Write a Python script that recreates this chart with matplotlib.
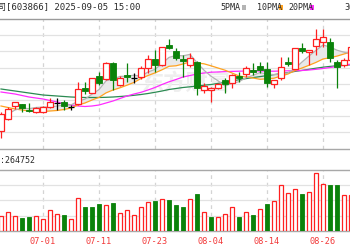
import matplotlib
matplotlib.use('Agg')
import matplotlib.pyplot as plt
from matplotlib.patches import Rectangle
import numpy as np

# ---------------- data ----------------
dates = ['06-23', '06-24', '06-25', '06-26', '06-27', '06-30',
         '07-01', '07-02', '07-03', '07-04', '07-07', '07-08', '07-09', '07-10',
         '07-11', '07-14', '07-15', '07-16', '07-17', '07-18', '07-21', '07-22',
         '07-23', '07-24', '07-25', '07-28', '07-29', '07-30', '07-31', '08-01',
         '08-04', '08-05', '08-06', '08-07', '08-08', '08-11', '08-12', '08-13',
         '08-14', '08-15', '08-18', '08-19', '08-20', '08-21', '08-22', '08-25',
         '08-26', '08-27', '08-28', '08-29', '09-01']
label_dates = ['07-01', '07-11', '07-23', '08-04', '08-14', '08-26']

opens = [6.69, 6.81, 6.94, 6.96, 6.90, 6.88, 6.88, 6.93, 6.97, 6.98, 6.93, 6.96, 7.12,
         7.07, 7.24, 7.21, 7.37, 7.15, 7.25, 7.22, 7.23, 7.32, 7.41, 7.35, 7.55, 7.49,
         7.41, 7.35, 7.38, 7.10, 7.10, 7.12, 7.20, 7.17, 7.24, 7.26, 7.30, 7.34, 7.31,
         7.16, 7.22, 7.38, 7.31, 7.52, 7.48, 7.54, 7.58, 7.58, 7.38, 7.35, 7.40]
closes = [6.86, 6.91, 6.98, 6.92, 6.89, 6.92, 6.93, 6.98, 6.97, 6.94, 6.93, 7.11, 7.09,
          7.22, 7.17, 7.37, 7.20, 7.22, 7.23, 7.22, 7.32, 7.41, 7.35, 7.53, 7.52, 7.42,
          7.39, 7.42, 7.12, 7.14, 7.12, 7.16, 7.16, 7.25, 7.22, 7.32, 7.28, 7.30, 7.17,
          7.20, 7.33, 7.36, 7.52, 7.49, 7.50, 7.61, 7.63, 7.42, 7.33, 7.40, 7.53]
highs = [6.88, 6.93, 6.98, 6.96, 6.97, 6.93, 6.94, 7.02, 7.02, 7.00, 6.95, 7.18, 7.18,
         7.22, 7.28, 7.38, 7.38, 7.24, 7.37, 7.27, 7.34, 7.45, 7.50, 7.53, 7.61, 7.52,
         7.45, 7.47, 7.39, 7.17, 7.13, 7.17, 7.22, 7.26, 7.28, 7.34, 7.37, 7.38, 7.38,
         7.20, 7.43, 7.43, 7.52, 7.57, 7.50, 7.71, 7.71, 7.62, 7.40, 7.42, 7.55]
lows = [6.62, 6.80, 6.91, 6.88, 6.88, 6.87, 6.87, 6.92, 6.90, 6.90, 6.90, 6.95, 7.06,
        7.07, 7.15, 7.20, 7.10, 7.14, 7.18, 7.17, 7.21, 7.27, 7.28, 7.34, 7.51, 7.40,
        7.23, 7.33, 7.05, 7.07, 6.98, 7.11, 7.07, 7.12, 7.18, 7.23, 7.25, 7.27, 7.13,
        7.12, 7.20, 7.34, 7.31, 7.47, 7.35, 7.45, 7.53, 7.38, 7.12, 7.33, 7.38]

ma5 = [6.840, 6.860, 6.900, 6.920, 6.913, 6.925, 6.929, 6.929, 6.940, 6.949, 6.951,
       6.987, 7.009, 7.058, 7.104, 7.192, 7.210, 7.236, 7.238, 7.248, 7.238, 7.280,
       7.306, 7.366, 7.426, 7.446, 7.442, 7.456, 7.374, 7.298, 7.238, 7.192, 7.140,
       7.166, 7.183, 7.223, 7.247, 7.275, 7.259, 7.254, 7.256, 7.272, 7.316, 7.380,
       7.440, 7.496, 7.550, 7.530, 7.498, 7.478, 7.462]
ma10 = [6.940, 6.925, 6.910, 6.900, 6.890, 6.885, 6.885, 6.890, 6.895, 6.905, 6.920,
        6.950, 6.970, 7.000, 7.026, 7.071, 7.100, 7.122, 7.148, 7.176, 7.215, 7.245,
        7.271, 7.302, 7.337, 7.342, 7.360, 7.381, 7.370, 7.362, 7.342, 7.320, 7.298,
        7.270, 7.240, 7.230, 7.220, 7.207, 7.212, 7.218, 7.240, 7.260, 7.295, 7.320,
        7.347, 7.376, 7.410, 7.423, 7.439, 7.460, 7.479]
ma20 = [7.080, 7.070, 7.060, 7.045, 7.030, 7.020, 7.010, 6.995, 6.980, 6.965, 6.950,
        6.940, 6.935, 6.940, 6.950, 6.970, 6.990, 7.015, 7.040, 7.060, 7.077, 7.100,
        7.125, 7.155, 7.182, 7.205, 7.230, 7.245, 7.260, 7.270, 7.278, 7.280, 7.284,
        7.286, 7.288, 7.290, 7.290, 7.290, 7.288, 7.288, 7.290, 7.292, 7.293, 7.295,
        7.300, 7.307, 7.315, 7.325, 7.335, 7.348, 7.359]
ma30 = [7.110, 7.100, 7.090, 7.080, 7.070, 7.060, 7.050, 7.045, 7.040, 7.035, 7.030,
        7.027, 7.025, 7.025, 7.025, 7.027, 7.030, 7.035, 7.040, 7.047, 7.055, 7.065,
        7.077, 7.090, 7.105, 7.115, 7.125, 7.132, 7.140, 7.148, 7.155, 7.166, 7.177,
        7.190, 7.203, 7.214, 7.224, 7.234, 7.244, 7.254, 7.263, 7.274, 7.286, 7.296,
        7.307, 7.318, 7.328, 7.336, 7.342, 7.347, 7.352]

volumes = [100300, 122600, 100300, 83300, 93800, 100300, 78700, 135700, 109500, 104900,
           78700, 214400, 159300, 159300, 175100, 165900, 183600, 116100, 137700, 104900,
           155400, 188200, 192100, 207900, 198700, 165900, 155400, 209800, 242600, 126600,
           93800, 93800, 111500, 155400, 89800, 126600, 104900, 142300, 172500, 196700,
           297000, 247200, 273400, 242600, 253800, 378300, 306200, 297000, 301600, 236100,
           236100]
vol_up = [1, 1, 1, 0, 0, 1, 1, 1, 1, 0, 1, 1, 0, 0, 0, 1, 0, 1, 1, 1, 1, 1, 0, 1, 0,
          0, 0, 1, 0, 1, 0, 1, 1, 1, 0, 1, 0, 1, 0, 1, 1, 1, 1, 0, 1, 1, 1, 0, 0, 1, 1]

title_text = '司[603866] 2025-09-05 15:00'
volume_text = ':264752'
legend_items = [('5PMA', '#b4b4b4'), ('10PMA', '#ffa21f'), ('20PMA', '#ff2bff'), ('30', None)]
watermark = '东方财富'

# ---------------- styling ----------------
RED = '#ff2020'
GREEN = '#0a820a'
MONO = ['DejaVu Sans Mono', 'Noto Sans CJK SC']
W, H = 350, 250
fig = plt.figure(figsize=(W / 100, H / 100), dpi=100)
fig.patch.set_facecolor('white')


def rect(x0, y0, x1, y1):
    return [x0 / W, 1 - y1 / H, (x1 - x0) / W, (y1 - y0) / H]


axp = fig.add_axes(rect(0, 19, 350, 148.5))
axv = fig.add_axes(rect(0, 169.5, 350, 231))

n = len(dates)
idx = np.arange(n)
xlim = (-1 / 7, 349 / 7)
pmin, pmax = 6.515, 7.81
vmax = 400000

label_idx = [dates.index(d) for d in label_dates]

for ax in (axp, axv):
    ax.set_xlim(*xlim)
    ax.set_xticks([])
    ax.tick_params(left=False, labelleft=False, bottom=False, labelbottom=False)
    for s in ('left', 'right'):
        ax.spines[s].set_visible(False)
    for s in ('top', 'bottom'):
        ax.spines[s].set_color('#a8a8a8')
        ax.spines[s].set_linewidth(1.0)
    for i in label_idx:
        ax.axvline(i, color='#d4d4d4', lw=0.9, ls=(0, (3, 3)), zorder=0)

axp.spines['top'].set_color('#9a9a9a')
axp.set_ylim(pmin, pmax)
for yv in np.linspace(pmin, pmax, 9)[1:-1]:
    axp.axhline(yv, color='#e2e2e2', lw=0.9, zorder=0)
axv.set_ylim(0, vmax)
for yv in (100000, 200000, 300000):
    axv.axhline(yv, color='#e2e2e2', lw=0.9, zorder=0)

# watermark
axp.text(26.5, 7.17, watermark, fontsize=16, color='#eeeeee', ha='center', va='center',
         family=['Noto Sans CJK SC', 'DejaVu Sans'], fontweight='bold', zorder=0.5)

# MA5/MA10 shading where MA5 is above
m5 = np.array(ma5)
m10 = np.array(ma10)
axp.fill_between(idx, m5, m10, where=m5 > m10, interpolate=True, color='#e9e9e9',
                 lw=0, zorder=1)

# MA lines
axp.plot(idx, ma30, color='#2b8a52', lw=0.9, zorder=2)
axp.plot(idx, ma20, color='#ff2bff', lw=0.9, zorder=2)
axp.plot(idx, ma10, color='#ffa21f', lw=0.9, zorder=2)
axp.plot(idx, ma5, color='#b4b4b4', lw=0.9, zorder=2)

bw = 0.72
for i in range(n):
    o, c, h, l = opens[i], closes[i], highs[i], lows[i]
    if c > o:
        axp.vlines(i, l, o, color=RED, lw=0.9, zorder=3)
        axp.vlines(i, c, h, color=RED, lw=0.9, zorder=3)
        axp.add_patch(Rectangle((i - bw / 2, o), bw, c - o, facecolor='white',
                                edgecolor=RED, lw=0.9, zorder=4))
    elif c < o:
        axp.vlines(i, l, h, color=GREEN, lw=0.9, zorder=3)
        axp.add_patch(Rectangle((i - bw / 2, c), bw, o - c, facecolor=GREEN,
                                edgecolor=GREEN, lw=0.6, zorder=4))
    else:
        axp.vlines(i, l, h, color='black', lw=0.9, zorder=3)
        axp.hlines(o, i - bw / 2, i + bw / 2, color='black', lw=0.9, zorder=4)

vw = 0.62
for i in range(n):
    if vol_up[i]:
        axv.add_patch(Rectangle((i - vw / 2, 0), vw, volumes[i], facecolor='white',
                                edgecolor=RED, lw=0.9, zorder=3))
    else:
        axv.add_patch(Rectangle((i - vw / 2, 0), vw, volumes[i], facecolor=GREEN,
                                edgecolor=GREEN, lw=0.6, zorder=3))

# date labels
for i, d in zip(label_idx, label_dates):
    axv.text(i, -10 / 61.5, d, transform=axv.get_xaxis_transform(), ha='center',
             va='center', color='#f23a3a', fontsize=6.2, family=MONO)

# header
fig.text(-3 / W, 1 - 7.5 / H, title_text, fontsize=6.5, color='#2a2a2a', va='center',
         ha='left', family=MONO)
fig.text(0 / W, 1 - 160.5 / H, volume_text, fontsize=6.0, color='#2a2a2a', va='center',
         ha='left', family=MONO)

leg_x = [220, 257, 288, 344]
sq_x = [242, 279, 310, None]
for (lab, col), tx, sx in zip(legend_items, leg_x, sq_x):
    fig.text(tx / W, 1 - 7.5 / H, lab, fontsize=6.0, color='#2a2a2a', va='center',
             ha='left', family=MONO)
    if col is not None:
        fig.patches.append(Rectangle((sx / W, 1 - 9.5 / H), 4 / W, 4 / H, facecolor=col,
                                     edgecolor='none', transform=fig.transFigure,
                                     figure=fig))

fig.savefig('out.png', dpi=100, facecolor='white')
